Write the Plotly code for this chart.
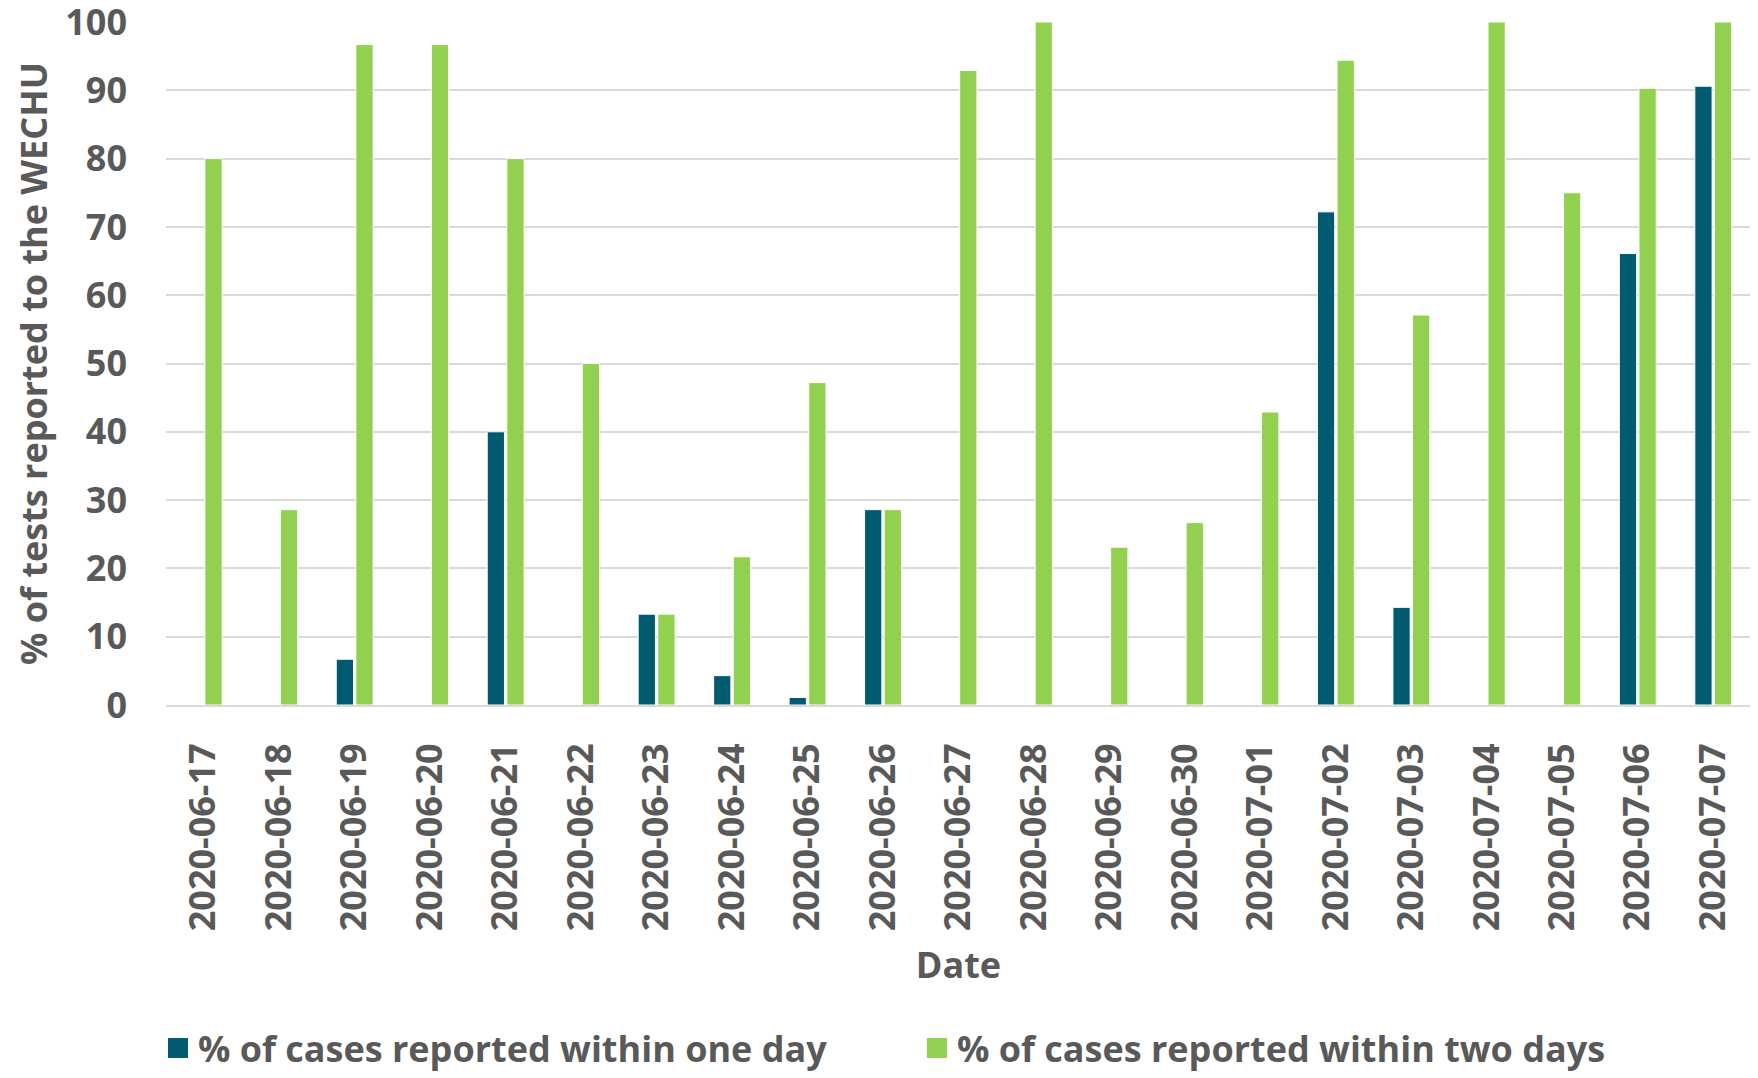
import plotly.graph_objects as go

dates = ["2020-06-17", "2020-06-18", "2020-06-19", "2020-06-20", "2020-06-21",
         "2020-06-22", "2020-06-23", "2020-06-24", "2020-06-25", "2020-06-26",
         "2020-06-27", "2020-06-28", "2020-06-29", "2020-06-30", "2020-07-01",
         "2020-07-02", "2020-07-03", "2020-07-04", "2020-07-05", "2020-07-06",
         "2020-07-07"]
one_day = [0, 0, 6.7, 0, 40.0, 0, 13.3, 4.3, 1.1, 28.6, 0, 0, 0, 0, 0,
           72.2, 14.3, 0, 0, 66.1, 90.6]
two_days = [80.0, 28.6, 96.7, 96.7, 80.0, 50.0, 13.3, 21.7, 47.2, 28.6, 92.9,
            100.0, 23.1, 26.7, 42.9, 94.4, 57.1, 100.0, 75.0, 90.3, 100.0]
series_names = ["% of cases reported within one day",
                "% of cases reported within two days"]
series_colors = ["#005A70", "#92D050"]
y_ticks = list(range(0, 101, 10))

TEXT = "#595959"
FONT = "Open Sans"
fig = go.Figure()
for vals, name, col in zip([one_day, two_days], series_names, series_colors):
    fig.add_trace(go.Bar(x=dates, y=vals, name=name, showlegend=False,
                         marker=dict(color=col, line=dict(color="#FFFFFF", width=1))))
# legend entries with larger square symbols
for name, col in zip(series_names, series_colors):
    fig.add_trace(go.Scatter(x=[None], y=[None], mode="markers", name=name,
                             marker=dict(symbol="square", size=18, color=col,
                                         line=dict(color=col, width=4))))

# page body adds an 8px offset, so the figure is 8px smaller than the window
fig.update_layout(
    width=1750, height=1070,
    margin=dict(l=158, r=7, t=14, b=373),
    paper_bgcolor="white", plot_bgcolor="white",
    barmode="group", bargap=0.48, bargroupgap=0.12,
    font=dict(family=FONT, color=TEXT),
    showlegend=True,
    legend=dict(orientation="h", xref="container", x=0.0857, xanchor="left",
                yref="container", y=-0.0235, yanchor="bottom",
                font=dict(family=FONT, size=36, color=TEXT, weight="bold"),
                entrywidth=714, entrywidthmode="pixels", itemwidth=30,
                traceorder="normal"),
)
fig.update_xaxes(type="category", tickangle=-90, automargin="bottom",
                 tickfont=dict(family=FONT, size=36, color=TEXT, weight="bold"),
                 ticklabelstandoff=22,
                 showline=True, linecolor="#D9D9D9", linewidth=2,
                 title=dict(text="Date", standoff=23,
                            font=dict(family=FONT, size=36, color=TEXT, weight="bold")))
fig.update_yaxes(range=[0, 100], tickvals=y_ticks, automargin="left",
                 ticklabeloverflow="allow",
                 tickfont=dict(family=FONT, size=36, color=TEXT, weight="bold"),
                 showgrid=True, gridcolor="#D9D9D9", gridwidth=2,
                 zeroline=False, ticklabelstandoff=38,
                 title=dict(text="% of tests reported to the WECHU", standoff=6,
                            font=dict(family=FONT, size=36, color=TEXT, weight="bold")))

fig.write_html("out.html")
